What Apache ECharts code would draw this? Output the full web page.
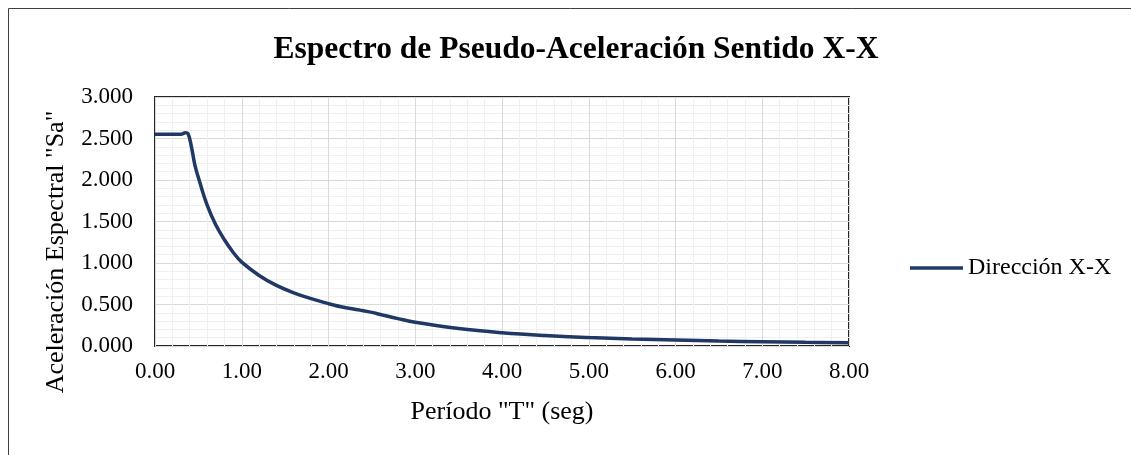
<!DOCTYPE html>
<html>
<head>
<meta charset="utf-8">
<script src="https://cdn.jsdelivr.net/npm/echarts@6/dist/echarts.min.js"></script>
<style>
  html, body { margin: 0; padding: 0; background: #fff; }
  #chart { width: 1131px; height: 455px; }
</style>
</head>
<body>
<div id="chart"></div>
<script>
const titleText = 'Espectro de Pseudo-Aceleración Sentido X-X';
const seriesName = 'Dirección X-X';
const xAxisName = 'Período "T" (seg)';
const yAxisName = 'Aceleración Espectral "Sa"';
const periods = [0, 0.1, 0.2, 0.3, 0.35, 0.38, 0.42, 0.46, 0.52, 0.6, 0.7, 0.8, 0.9, 1.0, 1.2, 1.4, 1.6, 1.8, 2.0, 2.2, 2.4, 2.5, 2.6, 2.8, 3.0, 3.5, 4.0, 4.5, 5.0, 5.5, 6.0, 6.5, 7.0, 7.5, 8.0];
const saValues = [2.55, 2.55, 2.55, 2.55, 2.57, 2.56, 2.40, 2.18, 1.96, 1.70, 1.46, 1.28, 1.13, 1.01, 0.85, 0.73, 0.64, 0.57, 0.51, 0.46, 0.425, 0.405, 0.38, 0.33, 0.285, 0.21, 0.16, 0.126, 0.102, 0.084, 0.071, 0.060, 0.052, 0.045, 0.040];

const FONT = 'Liberation Serif';
const chart = echarts.init(document.getElementById('chart'), null, { renderer: 'canvas' });
const seriesData = periods.map((t, i) => [t, saValues[i]]);

chart.setOption({
  backgroundColor: '#ffffff',
  animation: false,
  title: {
    text: titleText,
    left: 571,
    textAlign: 'center',
    top: 29,
    textStyle: { fontFamily: FONT, fontSize: 31.5, fontWeight: 'bold', color: '#000' }
  },
  graphic: [
    {
      type: 'rect',
      shape: { x: 8.5, y: 8.5, width: 1140, height: 460 },
      style: { fill: 'none', stroke: '#404040', lineWidth: 1 },
      silent: true
    },
    {
      type: 'text',
      x: 56,
      y: 252,
      rotation: Math.PI / 2,
      style: {
        text: yAxisName,
        fontFamily: FONT,
        fontSize: 26,
        fill: '#000',
        align: 'center',
        verticalAlign: 'middle'
      }
    }
  ],
  legend: {
    data: [seriesName],
    left: 905,
    top: 251,
    icon: 'rect',
    itemWidth: 53,
    itemHeight: 3.5,
    textStyle: { fontFamily: FONT, fontSize: 24, color: '#000' }
  },
  grid: {
    left: 155,
    top: 97,
    right: 282,
    bottom: 109,
    show: true,
    borderColor: '#262626',
    borderWidth: 2,
    containLabel: false
  },
  xAxis: {
    type: 'value',
    min: 0,
    max: 8,
    interval: 1,
    name: xAxisName,
    nameLocation: 'middle',
    nameGap: 53,
    nameTextStyle: { fontFamily: FONT, fontSize: 26, color: '#000' },
    axisLine: { show: false },
    axisTick: { show: false },
    axisLabel: {
      margin: 14,
      fontFamily: FONT,
      fontSize: 23,
      color: '#000',
      formatter: v => v.toFixed(2)
    },
    splitLine: { show: true, lineStyle: { color: '#d9d9d9', width: 1 } },
    minorTick: { show: false, splitNumber: 5 },
    minorSplitLine: { show: true, lineStyle: { color: '#f0f0f0', width: 1 } }
  },
  yAxis: {
    type: 'value',
    min: 0,
    max: 3,
    interval: 0.5,
    axisLine: { show: false },
    axisTick: { show: false },
    axisLabel: {
      margin: 22,
      fontFamily: FONT,
      fontSize: 23,
      color: '#000',
      formatter: v => v.toFixed(3)
    },
    splitLine: { show: true, lineStyle: { color: '#d9d9d9', width: 1 } },
    minorTick: { show: false, splitNumber: 5 },
    minorSplitLine: { show: true, lineStyle: { color: '#f0f0f0', width: 1 } }
  },
  series: [
    {
      name: seriesName,
      type: 'line',
      data: seriesData,
      smooth: 0.4,
      showSymbol: false,
      symbol: 'none',
      lineStyle: { color: '#203864', width: 3.5 },
      itemStyle: { color: '#203864' }
    }
  ]
});
</script>
</body>
</html>
